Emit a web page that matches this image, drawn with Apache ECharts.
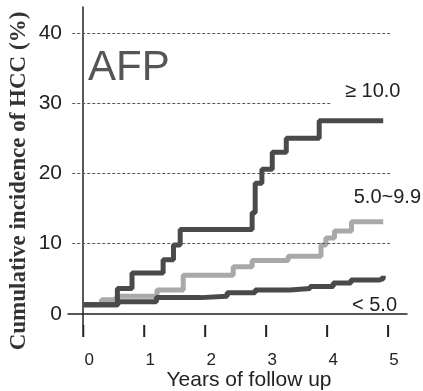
<!DOCTYPE html>
<html>
<head>
<meta charset="utf-8">
<script src="https://cdn.jsdelivr.net/npm/echarts@6/dist/echarts.min.js"></script>
<style>html,body{margin:0;padding:0;background:#fff}#c{width:423px;height:391px}</style>
</head>
<body>
<div id="c"></div>
<script>
// Data
const xTickLabels = [0, 1, 2, 3, 4, 5];
const yTickLabels = [0, 10, 20, 30, 40];
const gridValues = [10, 20, 30, 40];

const highTimes  = [0, 0.56, 0.80, 1.31, 1.48, 1.59, 2.77, 2.82, 2.93, 3.10, 3.33, 3.87, 4.92];
const highValues = [1.3, 3.6, 5.8, 7.7, 9.8, 12.0, 14.4, 18.6, 20.6, 23.0, 25.0, 27.5, 27.5];

const midTimes  = [0, 0.30, 0.55, 1.21, 1.64, 2.46, 2.77, 3.36, 3.90, 3.98, 4.12, 4.40, 4.92];
const midValues = [1.3, 2.0, 2.5, 3.4, 5.5, 6.7, 7.6, 8.2, 9.8, 10.8, 11.8, 13.1, 13.1];

const lowTimes  = [0, 0.57, 1.20, 1.93, 2.36, 2.82, 3.39, 3.72, 4.10, 4.39, 4.85, 4.92];
const lowValues = [1.3, 1.7, 2.3, 2.5, 3.0, 3.4, 3.6, 3.9, 4.4, 4.8, 5.0, 5.4];

const seriesNames = ['≥ 10.0', '5.0~9.9', '< 5.0'];
const panelTitle = 'AFP';
const xTitle = 'Years of follow up';
const yTitle = 'Cumulative incidence of HCC (%)';

function pairs(t, v) { return t.map((x, i) => [x, v[i]]); }

const chart = echarts.init(document.getElementById('c'), null, { renderer: 'canvas' });
const Y_MIN = -1.6, Y_MAX = 43.7;
const gridEnds = { 10: 5.03, 20: 5.03, 30: 4.05, 40: 5.03 };
const FONT = 'Liberation Sans, Arial, sans-serif';

chart.setOption({
  animation: false,
  backgroundColor: '#fff',
  grid: { left: 68, right: 16, top: 7, bottom: 66, containLabel: false },
  xAxis: {
    type: 'value', min: -0.25, max: 5.31,
    axisLine: { show: true, lineStyle: { color: '#222', width: 1.5 } },
    axisTick: { show: false },
    axisLabel: { customValues: xTickLabels, margin: 27, fontSize: 17, color: '#222', fontFamily: FONT, padding: [0, 0, 0, 12] },
    splitLine: { show: false }
  },
  yAxis: {
    type: 'value', min: Y_MIN, max: Y_MAX,
    axisLine: { show: true, lineStyle: { color: '#222', width: 1.5 } },
    axisTick: { show: false },
    axisLabel: { customValues: yTickLabels, margin: 6, fontSize: 21, color: '#222', fontFamily: FONT, padding: [0, 0, 8, 0] },
    splitLine: { show: false }
  },
  series: [
    {
      name: seriesNames[1], type: 'line', step: 'end', symbol: 'none',
      data: pairs(midTimes, midValues),
      lineStyle: { color: '#a9a9a9', width: 5 },
      markLine: {
        silent: true, symbol: 'none', label: { show: false },
        lineStyle: { color: '#555', width: 1, type: [3, 2] },
        data: gridValues.map(v => [{ coord: [-0.18, v] }, { coord: [gridEnds[v], v] }])
      }
    },
    {
      name: seriesNames[2], type: 'line', step: 'end', symbol: 'none',
      data: pairs(lowTimes, lowValues),
      lineStyle: { color: '#4a4a4a', width: 5 }
    },
    {
      name: seriesNames[0], type: 'line', step: 'end', symbol: 'none',
      data: pairs(highTimes, highValues),
      lineStyle: { color: '#4a4a4a', width: 5 }
    },
    {
      type: 'custom', silent: true, clip: false, z: 5,
      data: xTickLabels.map(v => [v]),
      encode: { x: 0 },
      renderItem: function (params, api) {
        const p = api.coord([api.value(0), Y_MIN]);
        return { type: 'line', shape: { x1: p[0], y1: p[1], x2: p[0], y2: p[1] + 12 }, style: { stroke: '#222', lineWidth: 2 } };
      }
    }
  ],
  graphic: [
    { type: 'text', x: 88, y: 68, style: { text: panelTitle, font: '42px ' + FONT, fill: '#555', verticalAlign: 'middle', align: 'left' } },
    { type: 'text', x: 345, y: 91, style: { text: seriesNames[0], font: '20px ' + FONT, fill: '#222', verticalAlign: 'middle', align: 'left' } },
    { type: 'text', x: 421, y: 197, style: { text: seriesNames[1], font: '20px ' + FONT, fill: '#222', verticalAlign: 'middle', align: 'right' } },
    { type: 'text', x: 352, y: 305, style: { text: seriesNames[2], font: '20px ' + FONT, fill: '#222', verticalAlign: 'middle', align: 'left' } },
    { type: 'text', x: 249, y: 380, style: { text: xTitle, font: '21px ' + FONT, fill: '#222', verticalAlign: 'middle', align: 'center' } },
    { type: 'text', x: 19, y: 181, rotation: Math.PI / 2, style: { text: yTitle, font: 'bold 23px Liberation Serif, Times New Roman, serif', fill: '#333', verticalAlign: 'middle', align: 'center' } }
  ]
});
</script>
</body>
</html>
